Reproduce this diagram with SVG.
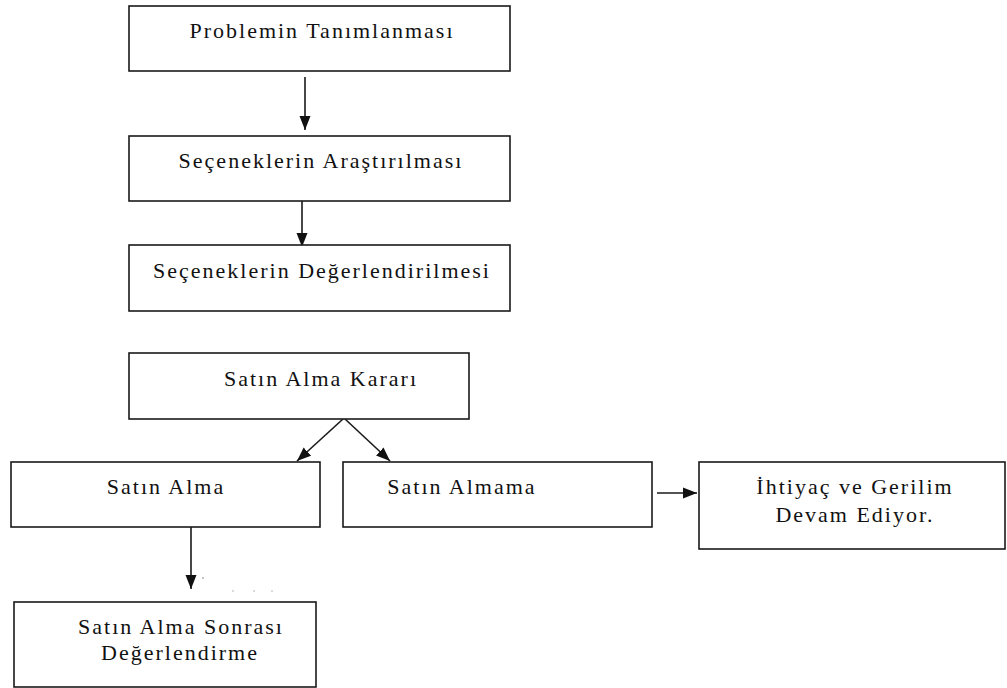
<svg xmlns="http://www.w3.org/2000/svg" width="1007" height="688" viewBox="0 0 1007 688">
<style>
.box{fill:#fff;stroke:#1a1a1a;stroke-width:1.6}
.lbl{font-family:"Liberation Serif","DejaVu Serif","Times New Roman",serif;font-size:22px;letter-spacing:2px;fill:#111;text-anchor:middle}
.conn{stroke:#1a1a1a;stroke-width:1.6;fill:none;marker-end:url(#ah)}
</style>
<defs>
<marker id="ah" markerUnits="userSpaceOnUse" markerWidth="15" markerHeight="12" refX="14" refY="6" orient="auto" viewBox="0 0 15 12">
<path d="M0,0.5 L14,6 L0,11.5 z" fill="#111"/>
</marker>
</defs>
<rect width="1007" height="688" fill="#fff"/>
<g id="connectors">
<line class="conn" x1="305" y1="77" x2="305" y2="130"/>
<line class="conn" x1="302" y1="201" x2="302" y2="247"/>
<line class="conn" x1="343" y1="419" x2="297" y2="461"/>
<line class="conn" x1="345" y1="419" x2="390" y2="461"/>
<line class="conn" x1="657" y1="493" x2="697" y2="493"/>
<line class="conn" x1="191" y1="527" x2="191" y2="589"/>
</g>
<g id="n1"><rect class="box" x="129" y="6" width="381" height="65"/><text class="lbl" x="322" y="38">Problemin Tanımlanması</text></g>
<g id="n2"><rect class="box" x="129" y="136" width="381" height="65"/><text class="lbl" x="321" y="168">Seçeneklerin Araştırılması</text></g>
<g id="n3"><rect class="box" x="129" y="245" width="381" height="66"/><text class="lbl" x="322" y="278">Seçeneklerin Değerlendirilmesi</text></g>
<g id="n4"><rect class="box" x="129" y="353" width="340" height="66"/><text class="lbl" x="321" y="386">Satın Alma Kararı</text></g>
<g id="n5"><rect class="box" x="11" y="462" width="309" height="65"/><text class="lbl" x="166" y="494">Satın Alma</text></g>
<g id="n6"><rect class="box" x="343" y="462" width="309" height="65"/><text class="lbl" x="462" y="494">Satın Almama</text></g>
<g id="n7"><rect class="box" x="699" y="462" width="306" height="87"/><text class="lbl" x="855" y="494">İhtiyaç ve Gerilim</text><text class="lbl" x="855" y="522">Devam Ediyor.</text></g>
<g id="n8"><rect class="box" x="14" y="602" width="302" height="85"/><text class="lbl" x="181" y="634">Satın Alma Sonrası</text><text class="lbl" x="180" y="660">Değerlendirme</text></g>
<g id="dots" fill="#aaa">
<circle cx="203" cy="578" r="0.9"/>
<circle cx="233" cy="591" r="0.8"/>
<circle cx="254" cy="591" r="0.8"/>
<circle cx="272" cy="591" r="0.8"/>
</g>
</svg>
